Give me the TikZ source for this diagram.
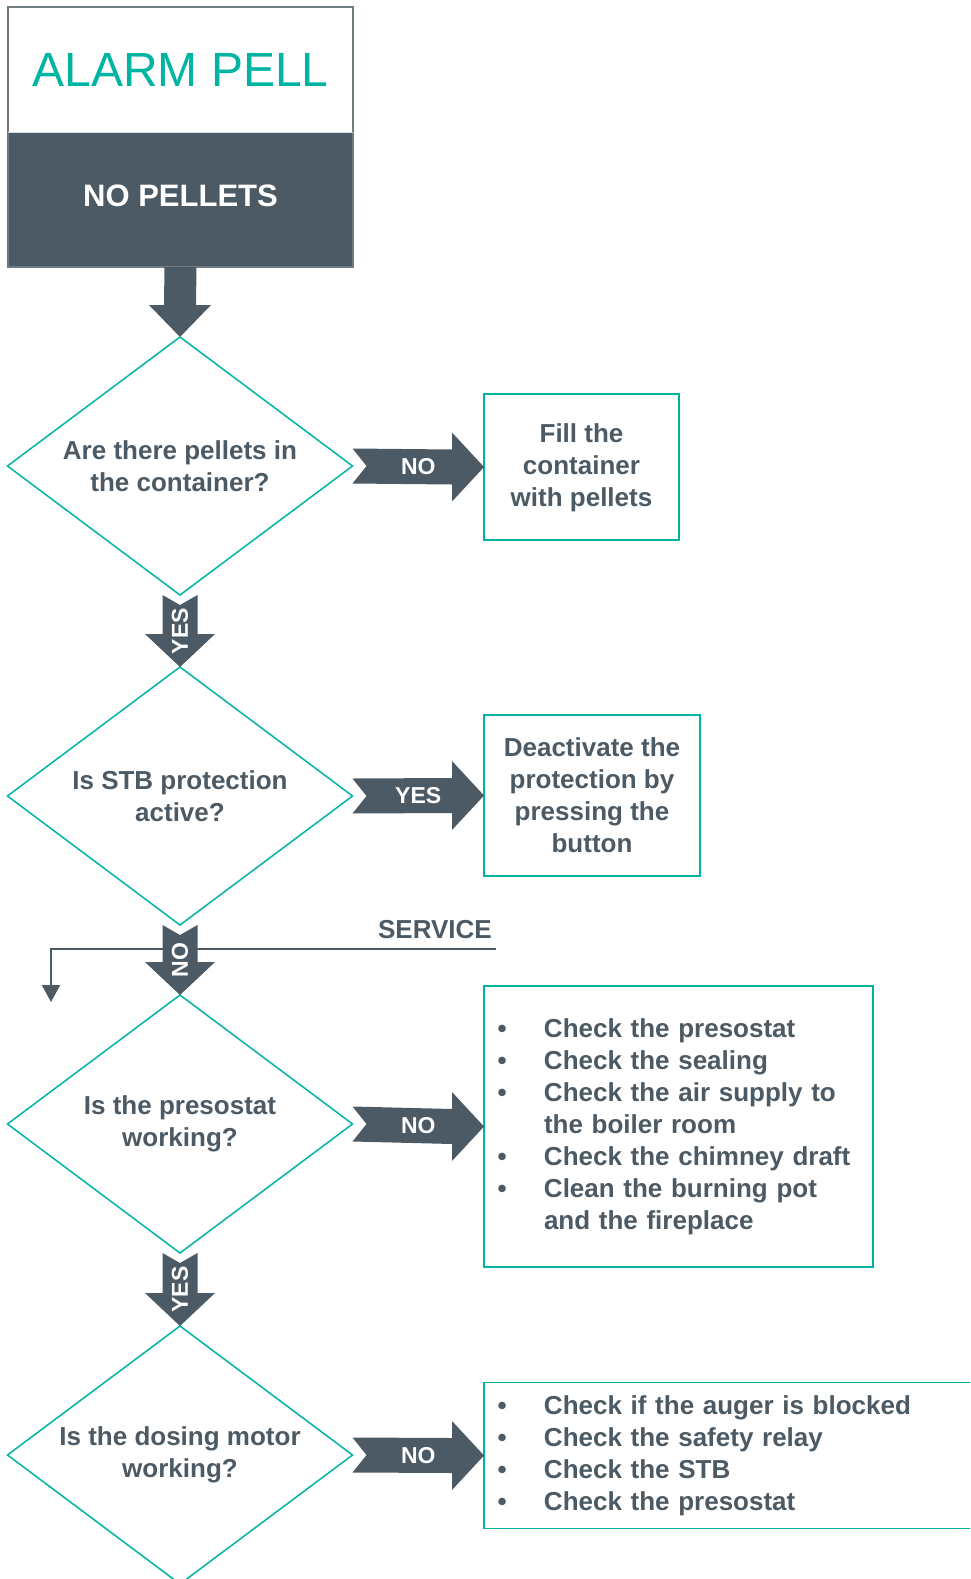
\documentclass[tikz,border=0pt]{standalone}
\usepackage{fontspec}
\setmainfont{Liberation Sans}
\usepackage{xcolor}
\usetikzlibrary{arrows.meta,calc,shapes.geometric}
\definecolor{slate}{RGB}{75,90,100}
\definecolor{pelteal}{RGB}{0,180,164}

\begin{document}
\begin{tikzpicture}[x=1pt,y=-1pt,line join=miter,
  decision/.style={diamond,aspect=1.34,draw=pelteal,line width=1.5pt,fill=white,minimum width=345pt,minimum height=258pt,inner sep=0pt,outer sep=0pt,align=center,text=slate,font=\fontsize{26}{32}\selectfont\bfseries},
  infobox/.style={rectangle,draw=pelteal,line width=1.5pt,fill=white,inner sep=0pt,outer sep=0pt,text=slate,font=\fontsize{26}{32}\selectfont\bfseries},
  arrowlabel/.style={inner sep=0pt,text=white,font=\fontsize{23}{23}\selectfont\bfseries}]
  \useasboundingbox (0,0) rectangle (970,1579);
  \clip (0,0) rectangle (970,1579);
  \node[rectangle,fill=white,minimum width=345pt,minimum height=125pt,inner sep=0pt,outer sep=0pt,text=pelteal,font=\fontsize{48}{48}\selectfont] (title) at (180.5,69.5) {ALARM PELL};
  \node[rectangle,fill=slate,minimum width=345pt,minimum height=135pt,inner sep=0pt,outer sep=0pt,text depth=8pt,text=white,font=\fontsize{31}{31}\selectfont\bfseries] (alarm) at (180.5,199.5) {NO PELLETS};
  \draw[slate!80,line width=2pt] (title.north west) rectangle (alarm.south east);
  \draw[white!80!slate,line width=1pt] (title.south west) -- (title.south east);
  \node[decision] (q1) at (180,466) {Are there pellets in\\the container?};
  \node[decision] (q2) at (180,796) {Is STB protection\\active?};
  \node[decision] (q3) at (180,1124) {Is the presostat\\working?};
  \node[decision] (q4) at (180,1455) {Is the dosing motor\\working?};
  \node[infobox,minimum width=195pt,minimum height=146pt,text depth=4pt,align=center] (fill1) at (581.5,467) {Fill the\\container\\with pellets};
  \node[infobox,minimum width=216pt,minimum height=161pt,align=center] (reset2) at (592,795.5) {Deactivate the\\protection by\\pressing the\\button};
  \node[infobox,minimum width=389pt,minimum height=281pt,text width=362pt,inner xsep=13.5pt,align=left] (check3) at (678.5,1126.5) {\makebox[46.5pt][l]{\textbullet}Check the presostat\\
    \makebox[46.5pt][l]{\textbullet}Check the sealing\\
    \makebox[46.5pt][l]{\textbullet}Check the air supply to\\
    \hspace*{46.5pt}the boiler room\\
    \makebox[46.5pt][l]{\textbullet}Check the chimney draft\\
    \makebox[46.5pt][l]{\textbullet}Clean the burning pot\\
    \hspace*{46.5pt}and the fireplace};
  \node[infobox,minimum width=500pt,minimum height=146pt,text width=473pt,inner xsep=13.5pt,align=left] (check4) at (734,1455.5) {\makebox[46.5pt][l]{\textbullet}Check if the auger is blocked\\
    \makebox[46.5pt][l]{\textbullet}Check the safety relay\\
    \makebox[46.5pt][l]{\textbullet}Check the STB\\
    \makebox[46.5pt][l]{\textbullet}Check the presostat};
  \coordinate (svcR) at (496,949);
  \coordinate (svcD) at (51,1002);
  \draw[slate,line width=2pt,-{Triangle[width=18pt,length=17pt]}] (svcR) -| (svcD);
  \node[inner sep=0pt,anchor=base east,text=slate,font=\fontsize{26}{26}\selectfont\bfseries] (svc) at (492,938) {SERVICE};
  \fill[slate] ($(alarm.south)+(-16,0)$) -- ($(alarm.south)+(16,0)$) -- ($(q1.north)+(16,-32)$) -- ($(q1.north)+(31,-32)$) -- (q1.north) -- ($(q1.north)+(-31,-32)$) -- ($(q1.north)+(-16,-32)$) -- cycle;
  \fill[slate] ($(q1.south)+(-17.5,0)$) -- ($(q1.south)+(0,10)$) -- ($(q1.south)+(17.5,0)$) -- ($(q2.north)+(17.5,-33)$) -- ($(q2.north)+(35,-33)$) -- (q2.north) -- ($(q2.north)+(-35,-33)$) -- ($(q2.north)+(-17.5,-33)$) -- cycle;
  \fill[slate] ($(q2.south)+(-17.5,0)$) -- ($(q2.south)+(0,10)$) -- ($(q2.south)+(17.5,0)$) -- ($(q3.north)+(17.5,-33)$) -- ($(q3.north)+(35,-33)$) -- (q3.north) -- ($(q3.north)+(-35,-33)$) -- ($(q3.north)+(-17.5,-33)$) -- cycle;
  \fill[slate] ($(q3.south)+(-17.5,0)$) -- ($(q3.south)+(0,10)$) -- ($(q3.south)+(17.5,0)$) -- ($(q4.north)+(17.5,-33)$) -- ($(q4.north)+(35,-33)$) -- (q4.north) -- ($(q4.north)+(-35,-33)$) -- ($(q4.north)+(-17.5,-33)$) -- cycle;
  \fill[slate] ($(q1.east)+(0,-17.5)$) -- ($(q1.east)+(14,0)$) -- ($(q1.east)+(0,17.5)$) -- ($(fill1.west)+(-32,17.5)$) -- ($(fill1.west)+(-32,34.5)$) -- (fill1.west) -- ($(fill1.west)+(-32,-34.5)$) -- ($(fill1.west)+(-32,-17.5)$) -- cycle;
  \fill[slate] ($(q2.east)+(0,-17.5)$) -- ($(q2.east)+(14,0)$) -- ($(q2.east)+(0,17.5)$) -- ($(reset2.west)+(-32,17.5)$) -- ($(reset2.west)+(-32,34.5)$) -- (reset2.west) -- ($(reset2.west)+(-32,-34.5)$) -- ($(reset2.west)+(-32,-17.5)$) -- cycle;
  \fill[slate] ($(q3.east)+(0,-17.5)$) -- ($(q3.east)+(14,0)$) -- ($(q3.east)+(0,17.5)$) -- ($(check3.west)+(-32,17.5)$) -- ($(check3.west)+(-32,34.5)$) -- (check3.west) -- ($(check3.west)+(-32,-34.5)$) -- ($(check3.west)+(-32,-17.5)$) -- cycle;
  \fill[slate] ($(q4.east)+(0,-17.5)$) -- ($(q4.east)+(14,0)$) -- ($(q4.east)+(0,17.5)$) -- ($(check4.west)+(-32,17.5)$) -- ($(check4.west)+(-32,34.5)$) -- (check4.west) -- ($(check4.west)+(-32,-34.5)$) -- ($(check4.west)+(-32,-17.5)$) -- cycle;
  \node[arrowlabel,rotate=90] (yes1) at ($(q1.south)!0.5!(q2.north)$) {YES};
  \node[arrowlabel,rotate=90] (no2) at ($(q2.south)!0.5!(q3.north)$) {NO};
  \node[arrowlabel,rotate=90] (yes3) at ($(q3.south)!0.5!(q4.north)$) {YES};
  \node[arrowlabel] (no1) at ($(q1.east)!0.5!(fill1.west)$) {NO};
  \node[arrowlabel] (yes2) at ($(q2.east)!0.5!(reset2.west)$) {YES};
  \node[arrowlabel] (no3) at ($(q3.east)!0.5!(check3.west)$) {NO};
  \node[arrowlabel] (no4) at ($(q4.east)!0.5!(check4.west)$) {NO};
\end{tikzpicture}
\end{document}
